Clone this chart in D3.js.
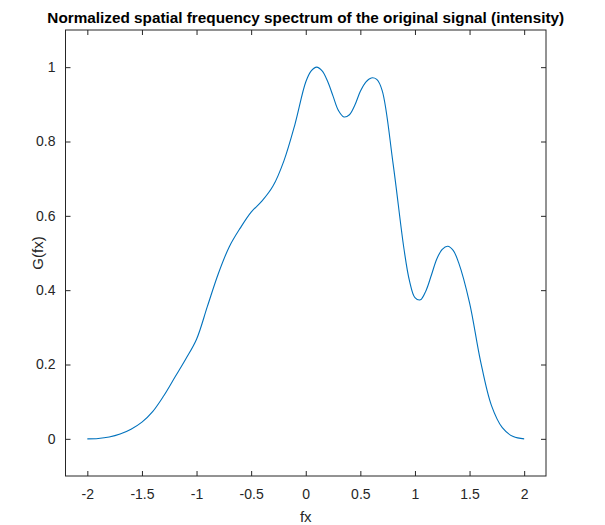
<!DOCTYPE html>
<html>
<head>
<meta charset="utf-8">
<script src="https://cdn.jsdelivr.net/npm/d3@7"></script>
<style>
  body { margin: 0; background: #fff; }
  text { font-family: "Liberation Sans", Arial, sans-serif; }
</style>
</head>
<body>
<div id="container"></div>
<script>
// spectrum samples
var fx = [-2.0, -1.9, -1.8, -1.7, -1.6, -1.5, -1.4, -1.3, -1.2, -1.1, -1.0,
          -0.9, -0.8, -0.7, -0.6, -0.5, -0.4, -0.3, -0.2, -0.1, 0.0,
          0.05, 0.1, 0.15, 0.2, 0.25, 0.3, 0.35, 0.4, 0.45, 0.5, 0.55, 0.6, 0.65, 0.7,
          0.8, 0.9, 0.95, 1.0, 1.05, 1.1, 1.15, 1.2, 1.25, 1.3, 1.35, 1.4,
          1.5, 1.6, 1.7, 1.8, 1.9, 2.0];
var gfx = [0, 0.001, 0.005, 0.013, 0.026, 0.045, 0.074, 0.116, 0.165, 0.214, 0.268,
           0.357, 0.445, 0.517, 0.567, 0.61, 0.64, 0.68, 0.748, 0.845, 0.96,
           0.99, 1.0, 0.99, 0.962, 0.922, 0.883, 0.866, 0.872, 0.898, 0.935, 0.96, 0.971, 0.967, 0.937,
           0.74, 0.51, 0.425, 0.38, 0.374, 0.398, 0.44, 0.484, 0.51, 0.518, 0.507, 0.474,
           0.366, 0.21, 0.09, 0.03, 0.006, 0];

var xTicks = [-2, -1.5, -1, -0.5, 0, 0.5, 1, 1.5, 2];
var yTicks = [0, 0.2, 0.4, 0.6, 0.8, 1];

var W = 605, H = 525;
var margin = { top: 30, right: 59, bottom: 49, left: 65.5 };

var svg = d3.select("div#container")
    .append("svg")
    .attr("width", W)
    .attr("height", H);

var x = d3.scaleLinear()
    .domain([-2.2, 2.2])
    .range([margin.left, W - margin.right]);

var y = d3.scaleLinear()
    .domain([-0.1, 1.1])
    .range([H - margin.bottom, margin.top]);

var axColor = "#262626";
var fmt = function (d) { return String(d) };

// ticks, MATLAB style: inward on all four sides
function styleAxis(g) {
    g.select(".domain").remove();
    g.selectAll(".tick line").attr("stroke", axColor);
    g.selectAll(".tick text")
        .attr("fill", axColor)
        .style("font-size", "14px");
}

svg.append("g")
    .attr("transform", "translate(0," + y.range()[0] + ")")
    .call(d3.axisBottom(x).tickValues(xTicks).tickSize(-5).tickPadding(13)
        .tickFormat(fmt))
    .call(styleAxis);

svg.append("g")
    .attr("transform", "translate(0," + y.range()[1] + ")")
    .call(d3.axisTop(x).tickValues(xTicks).tickSize(-5).tickFormat(""))
    .call(styleAxis);

svg.append("g")
    .attr("transform", "translate(" + x.range()[0] + ",0)")
    .call(d3.axisLeft(y).tickValues(yTicks).tickSize(-5).tickPadding(10)
        .tickFormat(fmt))
    .call(styleAxis);

svg.append("g")
    .attr("transform", "translate(" + x.range()[1] + ",0)")
    .call(d3.axisRight(y).tickValues(yTicks).tickSize(-5).tickFormat(""))
    .call(styleAxis);

// box
svg.append("rect")
    .attr("x", x.range()[0])
    .attr("y", y.range()[1])
    .attr("width", x.range()[1] - x.range()[0])
    .attr("height", y.range()[0] - y.range()[1])
    .attr("fill", "none")
    .attr("stroke", axColor)
    .attr("stroke-width", 1);

var line = d3.line()
    .x(function (d, i) { return x(fx[i]) })
    .y(function (d) { return y(d) })
    .curve(d3.curveCatmullRom.alpha(0.5));

svg.append("path")
    .datum(gfx)
    .attr("d", line)
    .attr("fill", "none")
    .attr("stroke", "#0072BD")
    .attr("stroke-width", 1.1);

svg.append("text")
    .attr("x", (x.range()[0] + x.range()[1]) / 2)
    .attr("y", 23)
    .attr("text-anchor", "middle")
    .style("font-size", "15.3px")
    .style("font-weight", "bold")
    .attr("fill", "#000")
    .text("Normalized spatial frequency spectrum of the original signal (intensity)");

svg.append("text")
    .attr("x", (x.range()[0] + x.range()[1]) / 2)
    .attr("y", 522)
    .attr("text-anchor", "middle")
    .style("font-size", "15px")
    .attr("fill", axColor)
    .text("fx");

svg.append("text")
    .attr("transform", "translate(43," + y(0.5) + ") rotate(-90)")
    .attr("text-anchor", "middle")
    .style("font-size", "15px")
    .attr("fill", axColor)
    .text("G(fx)");
</script>
</body>
</html>
